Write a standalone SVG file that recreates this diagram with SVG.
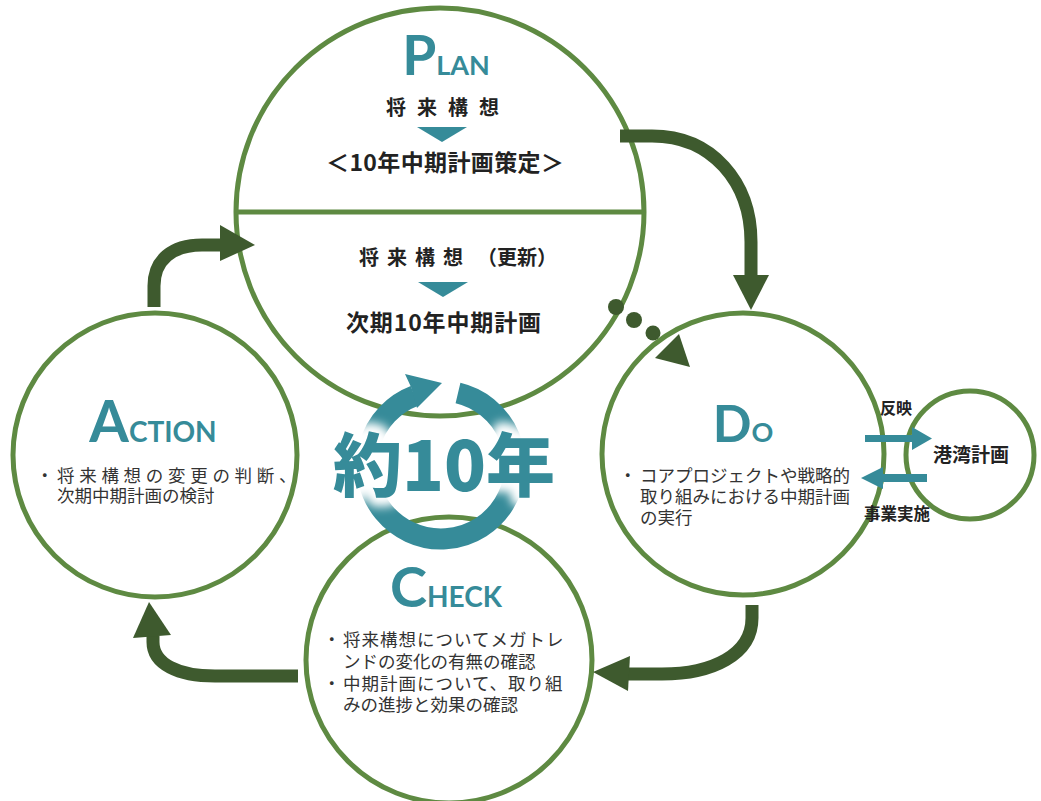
<svg xmlns="http://www.w3.org/2000/svg" width="1041" height="801" viewBox="0 0 1041 801">
<defs>
<style>
.c{fill:#fff;stroke:#5e8a42;stroke-width:5}
.arr{fill:none;stroke:#3e5a2e;stroke-width:13}
.ah{fill:#3e5a2e}
.jp{font-family:"Noto Sans CJK JP","Noto Sans CJK SC",sans-serif}
.hb{font-weight:700;fill:#222}
.body{font-size:17.5px;fill:#333}
.big{font-family:Lato,"Liberation Sans",sans-serif;font-weight:700;fill:#368b99}
.teal{fill:#368b99}
</style>
<filter id="glow" x="-20%" y="-30%" width="140%" height="160%"><feGaussianBlur stdDeviation="5"/></filter>
</defs>
<rect width="1041" height="801" fill="#fff"/>

<g id="plan">
<circle class="c" cx="440" cy="212" r="204"/>
<line x1="238" y1="212" x2="642" y2="212" stroke="#5e8a42" stroke-width="5"/>
<text class="big" x="446" y="75" text-anchor="middle"><tspan font-size="55">P</tspan><tspan font-size="27">LAN</tspan></text>
<text class="jp hb" x="386" y="115" font-size="20" letter-spacing="11">将来構想</text>
<polygon class="teal" points="417,127 467,127 442,142"/>
<text class="jp hb" x="326" y="171" font-size="23" textLength="238" lengthAdjust="spacing">＜10年中期計画策定＞</text>
<text class="jp hb" x="359" y="265" font-size="20"><tspan letter-spacing="8">将来構想</tspan><tspan x="477">（更新）</tspan></text>
<polygon class="teal" points="418,282 468,282 443,297"/>
<text class="jp hb" x="346" y="331" font-size="23" textLength="195" lengthAdjust="spacing">次期10年中期計画</text>
</g>

<g id="do">
<circle class="c" cx="743" cy="454" r="141"/>
<text class="big" x="743" y="442" text-anchor="middle"><tspan font-size="51">D</tspan><tspan font-size="27">O</tspan></text>
<text class="jp body"><tspan x="619" y="482">・</tspan><tspan x="640" y="482">コアプロジェクトや戦略的</tspan><tspan x="640" y="503">取り組みにおける中期計画</tspan><tspan x="640" y="524">の実行</tspan></text>
</g>

<g id="port">
<circle class="c" cx="970" cy="455" r="64"/>
<text class="jp hb" x="971" y="462" font-size="19" text-anchor="middle">港湾計画</text>
</g>

<g id="action">
<circle class="c" cx="155" cy="455" r="142"/>
<text class="big" x="153" y="442" text-anchor="middle"><tspan font-size="57">A</tspan><tspan font-size="28">CTION</tspan></text>
<text class="jp body"><tspan x="36" y="482">・</tspan><tspan x="57" y="482" letter-spacing="4.7">将来構想の変更の判断、</tspan><tspan x="57" y="502">次期中期計画の検討</tspan></text>
</g>

<g id="check">
<circle class="c" cx="449" cy="660" r="143"/>
<text class="big" x="446" y="607" text-anchor="middle"><tspan font-size="56">C</tspan><tspan font-size="28">HECK</tspan></text>
<text class="jp body"><tspan x="323" y="646">・</tspan><tspan x="343" y="646" letter-spacing="1">将来構想についてメガトレ</tspan><tspan x="343" y="668">ンドの変化の有無の確認</tspan><tspan x="323" y="690">・</tspan><tspan x="343" y="690" letter-spacing="1">中期計画について、取り組</tspan><tspan x="343" y="711">みの進捗と効果の確認</tspan></text>
</g>

<g id="connectors">
<path class="arr" d="M620,136 H652 C712,136 751,182 751,242 V278"/>
<polygon class="ah" points="733,275 769,275 751,310"/>
<circle class="ah" cx="616" cy="307" r="8"/>
<circle class="ah" cx="634" cy="320" r="8"/>
<circle class="ah" cx="653" cy="333" r="7.5"/>
<polygon class="ah" points="655,358 679,334 690,367"/>
<path class="arr" d="M752,605 V618 C752,655 712,674 662,674 H628"/>
<polygon class="ah" points="630,656 628,691 593,672"/>
<path class="arr" d="M298,676 H215 C178,676 153,664 153,642 V636"/>
<polygon class="ah" points="133,638 171,635 149,602"/>
<path class="arr" d="M154,307 V286 C154,260 172,245 202,245 H222"/>
<polygon class="ah" points="220,225 220,261 255,245"/>
<polygon class="teal" points="865,435 912,435 912,427 932,438.5 912,450 912,442 865,442"/>
<text class="jp hb" x="880" y="414" font-size="16">反映</text>
<polygon class="teal" points="927,474 883,474 883,467 861,478 883,489 883,482 927,482"/>
<text class="jp hb" x="864" y="520" font-size="16.5">事業実施</text>
</g>

<g id="cycle">
<path d="M458,393 A74,74 0 1 1 414.5,395.9" fill="none" stroke="#368b99" stroke-width="21"/>
<polygon class="teal" points="405,374 442,383 417,408 411,387"/>
<text class="jp" x="444" y="491" font-size="69" font-weight="900" text-anchor="middle" fill="#fff" stroke="#fff" stroke-width="18" stroke-linejoin="round" filter="url(#glow)">約10年</text>
<text class="jp" x="444" y="491" font-size="69" font-weight="900" text-anchor="middle" fill="#368b99">約10年</text>
</g>
</svg>
